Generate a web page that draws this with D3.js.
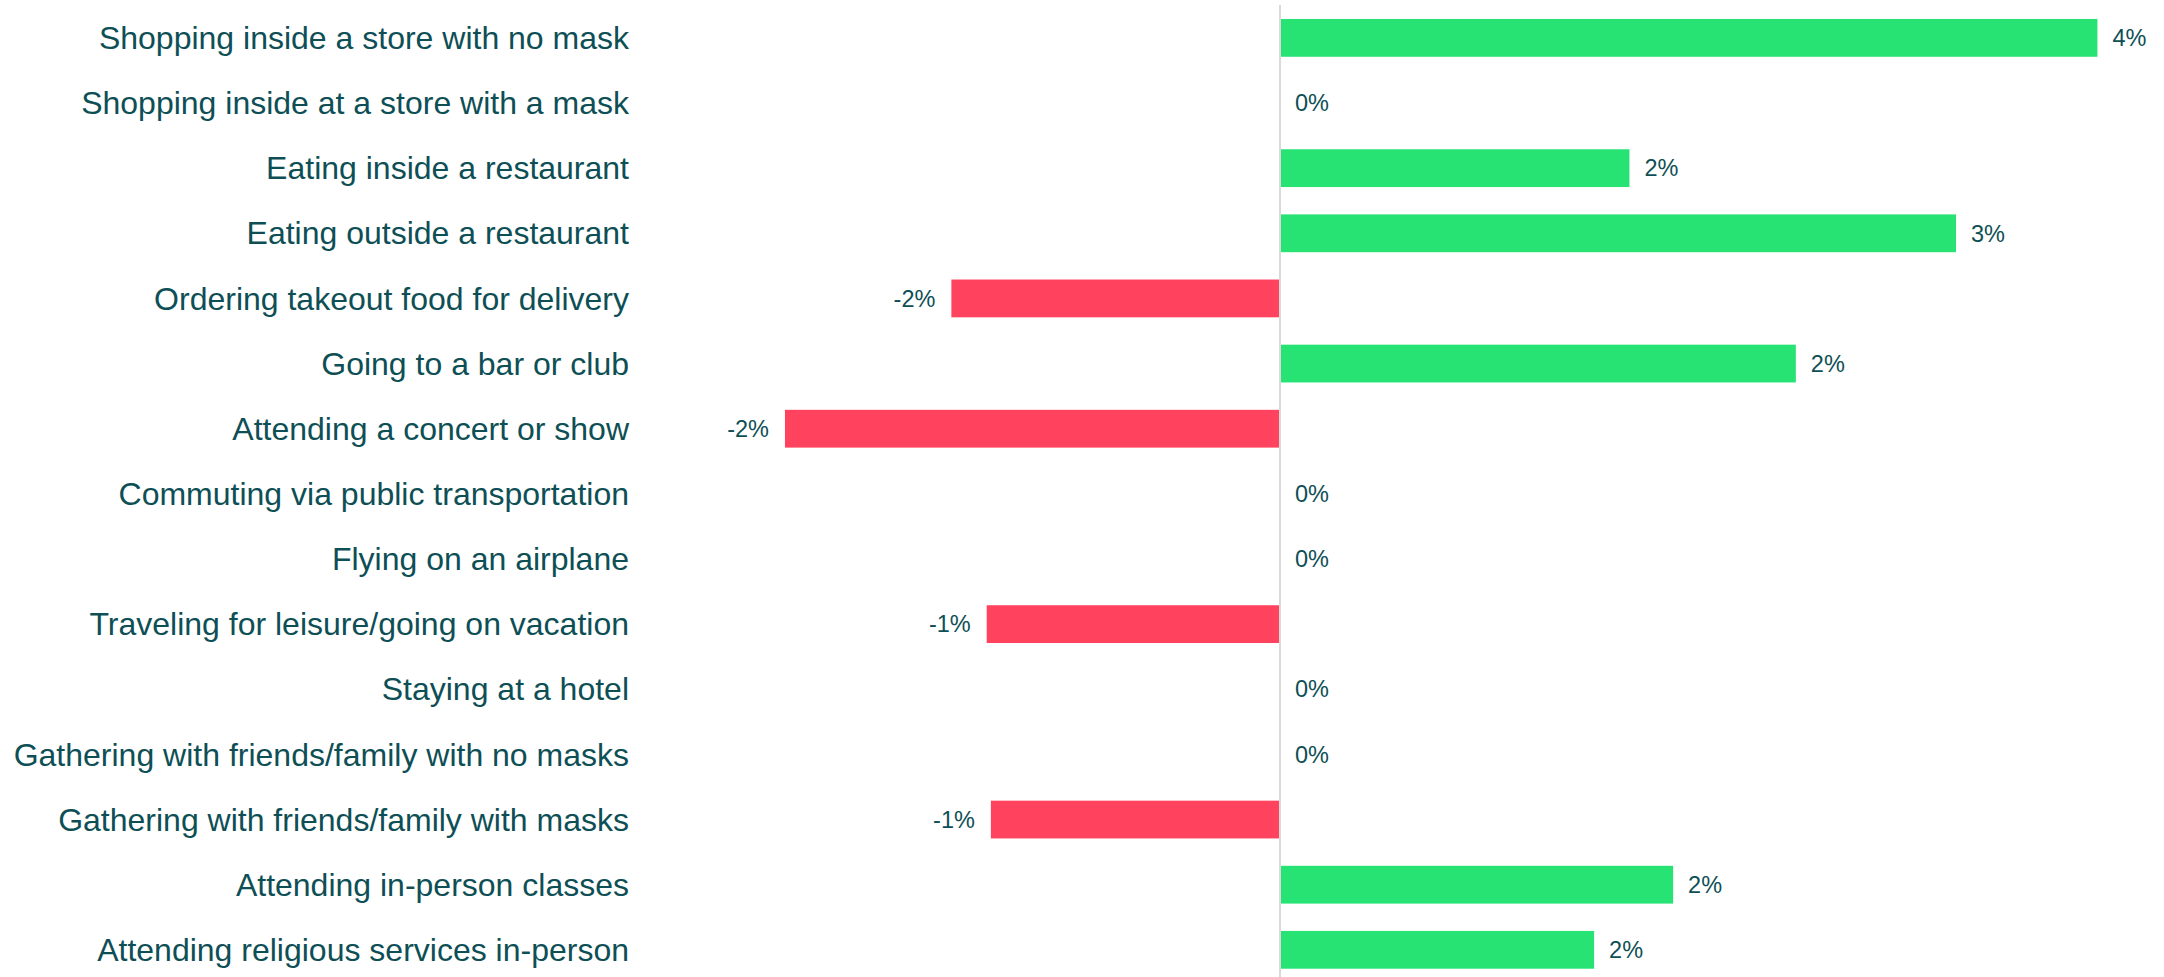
<!DOCTYPE html>
<html>
<head>
<meta charset="utf-8">
<script src="https://cdn.jsdelivr.net/npm/d3@7"></script>
<style>
  html, body { margin: 0; padding: 0; background: #ffffff; }
  svg { display: block; }
</style>
</head>
<body>
<svg id="chart" width="2164" height="977"></svg>
<script>
// Activities and the change in share of respondents doing each one
const categories = [
  "Shopping inside a store with no mask",
  "Shopping inside at a store with a mask",
  "Eating inside a restaurant",
  "Eating outside a restaurant",
  "Ordering takeout food for delivery",
  "Going to a bar or club",
  "Attending a concert or show",
  "Commuting via public transportation",
  "Flying on an airplane",
  "Traveling for leisure/going on vacation",
  "Staying at a hotel",
  "Gathering with friends/family with no masks",
  "Gathering with friends/family with masks",
  "Attending in-person classes",
  "Attending religious services in-person"
];
const changes = [
  0.0393, 0, 0.0168, 0.0325, -0.0158, 0.0248, -0.0238,
  0, 0, -0.0141, 0, 0, -0.0139, 0.0189, 0.0151
];
const xDomain = [-0.03, 0.04];

const W = 2164, H = 977;
const svg = d3.select("#chart");
const textColor = "#0e4f56";
const posColor = "#26e373";
const negColor = "#ff425e";

const data = categories.map((c, i) => ({ cat: c, v: changes[i] }));

const x = d3.scaleLinear().domain(xDomain).range([656, 2112]);
const y = d3.scaleBand()
  .domain(categories)
  .range([5.3, 982.4])
  .paddingInner(0.42)
  .paddingOuter(0.21);

// Bars
svg.append("g")
  .selectAll("rect")
  .data(data)
  .join("rect")
  .attr("x", d => x(Math.min(0, d.v)))
  .attr("width", d => Math.abs(x(d.v) - x(0)))
  .attr("y", d => y(d.cat))
  .attr("height", y.bandwidth())
  .attr("fill", d => d.v >= 0 ? posColor : negColor);

// Zero baseline
svg.append("line")
  .attr("x1", x(0)).attr("x2", x(0))
  .attr("y1", 5).attr("y2", H)
  .attr("stroke", "#d9d9d9")
  .attr("stroke-width", 2);

// Category labels
const yAxis = svg.append("g")
  .attr("transform", "translate(629,0)")
  .call(d3.axisLeft(y).tickSize(0).tickPadding(0));
yAxis.select(".domain").remove();
yAxis.selectAll("text")
  .attr("fill", textColor)
  .attr("font-family", "Liberation Sans, Arial, sans-serif")
  .attr("font-size", 32)
  .attr("dy", "0.35em");

// Value labels
svg.append("g")
  .selectAll("text")
  .data(data)
  .join("text")
  .attr("x", d => d.v < 0 ? x(d.v) - 16 : x(d.v) + 15)
  .attr("y", d => y(d.cat) + y.bandwidth() / 2)
  .attr("dy", "0.35em")
  .attr("text-anchor", d => d.v < 0 ? "end" : "start")
  .attr("fill", textColor)
  .attr("font-family", "Liberation Sans, Arial, sans-serif")
  .attr("font-size", 23.5)
  .text(d => `${Math.round(d.v * 100)}%`);
</script>
</body>
</html>
